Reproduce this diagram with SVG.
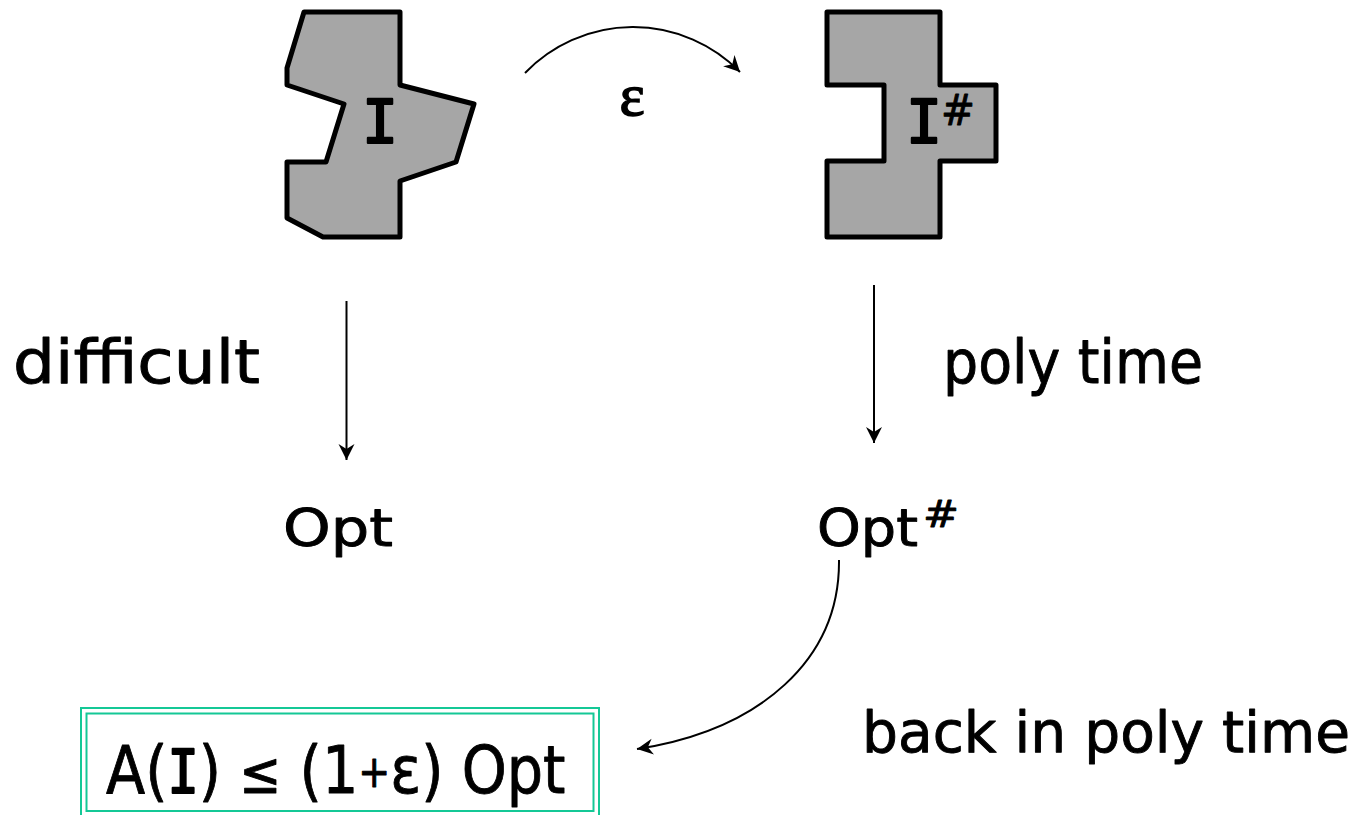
<svg xmlns="http://www.w3.org/2000/svg" width="1364" height="815" viewBox="0 0 1364 815">
  <style>
    .shape { fill: #a6a6a6; stroke: #000; stroke-width: 5; stroke-linejoin: round; }
    .lbl { font-family: "DejaVu Sans", "Open Sans", sans-serif; fill: #000; stroke: #000; stroke-width: 0.9; stroke-linejoin: round; }
    .mono { font-family: "DejaVu Sans Mono", "Liberation Mono", monospace; fill: #000; stroke: #000; stroke-width: 2.2; stroke-linejoin: round; }
    .conn { fill: none; stroke: #000; stroke-width: 2; }
    .box { fill: none; stroke: #14c896; stroke-width: 2; }
  </style>
  <defs>
    <marker id="arrow" markerUnits="userSpaceOnUse" markerWidth="18" markerHeight="18" refX="16" refY="8" orient="auto">
      <path d="M0,0 L16,8 L0,16 L5,8 z" fill="#000"/>
    </marker>
  </defs>

  <rect width="1364" height="815" fill="#fff"/>

  <!-- original instance -->
  <g id="instance">
    <path class="shape" d="M304,12 L400,12 L400,85 L474,104 L456,162 L400,181 L400,237 L323,237 L287,218 L287,162 L326,162 L344,104 L287,85 L287,68 Z"/>
    <text class="mono" x="380" y="143" font-size="60" text-anchor="middle">I</text>
  </g>

  <!-- rounded instance -->
  <g id="instance-rounded">
    <path class="shape" d="M827,12 L940,12 L940,85 L996,85 L996,161 L940,161 L940,237 L827,237 L827,161 L884,161 L884,85 L827,85 Z"/>
    <text class="mono" x="924" y="143" font-size="60" text-anchor="middle">I</text>
    <text class="lbl" x="941" y="125" font-size="42" textLength="34" lengthAdjust="spacingAndGlyphs">#</text>
  </g>

  <!-- epsilon label -->
  <g id="eps-label">
    <text x="632" y="115" font-family="'Liberation Serif', serif" font-size="60" text-anchor="middle" stroke="#000" stroke-width="1.5">ε</text>
  </g>

  <!-- optimum values -->
  <g id="opt">
    <text class="lbl" x="283" y="546" font-size="52" textLength="110" lengthAdjust="spacingAndGlyphs">Opt</text>
  </g>
  <g id="opt-rounded">
    <text class="lbl" x="817" y="546" font-size="52" textLength="101" lengthAdjust="spacingAndGlyphs">Opt</text>
    <text class="lbl" x="923" y="527" font-size="37" textLength="36" lengthAdjust="spacingAndGlyphs">#</text>
  </g>

  <!-- side labels -->
  <g id="label-difficult">
    <text class="lbl" x="13" y="383" font-size="60" textLength="247" lengthAdjust="spacingAndGlyphs">difficult</text>
  </g>
  <g id="label-poly">
    <text class="lbl" x="943" y="383" font-size="60" textLength="260" lengthAdjust="spacingAndGlyphs">poly time</text>
  </g>
  <g id="label-back">
    <text class="lbl" x="862" y="752" font-size="57" textLength="488" lengthAdjust="spacingAndGlyphs">back in poly time</text>
  </g>

  <!-- result box -->
  <g id="result">
    <rect class="box" x="81" y="708" width="518" height="112"/>
    <rect class="box" x="86.5" y="713.5" width="507" height="97.5"/>
    <text class="lbl" transform="translate(106,793) scale(0.867,1)" font-size="66">A(<tspan class="mono" font-size="60">I</tspan>) <tspan font-size="58">≤</tspan> (1<tspan font-size="44" dy="-6">+</tspan><tspan dy="6">ε) Opt</tspan></text>
  </g>

  <!-- connectors -->
  <g id="connectors">
    <path class="conn" d="M525,73 A150,150 0 0 1 740,72" marker-end="url(#arrow)"/>
    <line class="conn" x1="346.5" y1="301" x2="346.5" y2="460" stroke-width="1.6" marker-end="url(#arrow)"/>
    <line class="conn" x1="874" y1="285" x2="874" y2="443" stroke-width="1.6" marker-end="url(#arrow)"/>
    <path class="conn" d="M839,560 C840,660 760,730 637,749" marker-end="url(#arrow)"/>
  </g>
</svg>
